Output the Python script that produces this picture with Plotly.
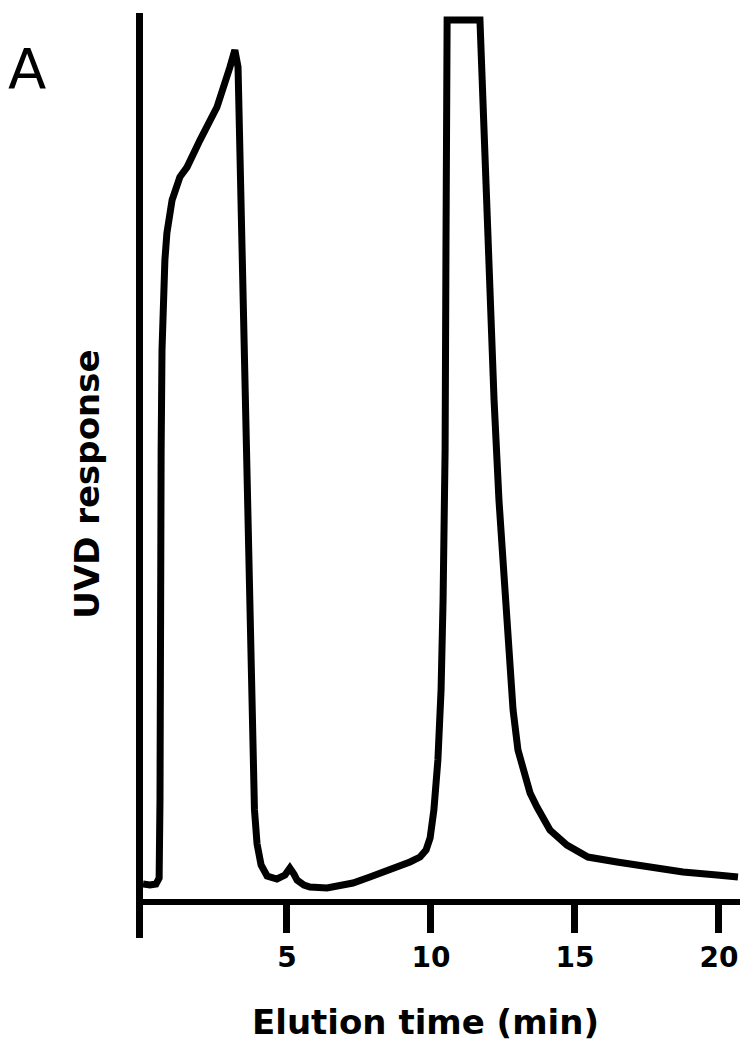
import plotly.graph_objects as go

# Chromatogram trace: elution time (min) and detector response (arbitrary units, off-scale = 100)
elution_time = [
    0.00, 0.24, 0.45, 0.56, 0.59, 0.59, 0.63, 0.66, 0.69, 0.76, 0.83, 1.01, 1.28, 1.53,
    1.98, 2.57, 3.02, 3.19, 3.30, 3.37, 3.47, 3.61, 3.70, 3.78, 3.87, 3.96, 4.10, 4.31,
    4.65, 4.93, 5.10, 5.24, 5.35, 5.59, 5.80, 6.39, 7.29, 7.88, 8.58, 9.27, 9.62, 9.83,
    9.97, 10.10, 10.24, 10.35, 10.42, 10.49, 10.52, 10.56, 11.70, 11.91, 12.05, 12.19,
    12.36, 12.57, 12.68, 12.85, 13.02, 13.23, 13.44, 13.68, 14.13, 14.72, 15.45, 16.46,
    17.60, 18.75, 19.93, 20.66,
]
uvd_response = [
    2.04, 1.93, 2.04, 2.72, 11.56, 34.24, 51.25, 62.59, 68.25, 72.79, 75.85, 79.59, 82.20, 83.33,
    86.39, 90.14, 94.67, 96.60, 94.67, 83.33, 68.25, 45.58, 30.00, 17.00, 10.50, 6.60, 4.20, 2.95,
    2.61, 3.06, 3.85, 3.17, 2.49, 1.93, 1.70, 1.59, 2.15, 2.83, 3.63, 4.54, 5.10, 5.90,
    7.26, 10.43, 16.10, 24.04, 34.24, 51.25, 73.92, 100.0, 100.0, 79.59, 68.25, 56.92,
    45.58, 34.24, 28.57, 21.77, 17.23, 14.40, 12.36, 10.77, 8.16, 6.46, 5.10, 4.54,
    3.97, 3.40, 3.06, 2.83,
]

x_ticks = [5, 10, 15, 20]
x_tick_labels = ["5", "10", "15", "20"]

FONT = "DejaVu Sans"
y_range = [-4.08, 100.8]
x_range = [0, 20.73]

fig = go.Figure()
fig.add_trace(go.Scatter(
    x=elution_time, y=uvd_response, mode="lines",
    line=dict(color="black", width=7),
    hoverinfo="skip", showlegend=False,
))

# x axis sits on the zero baseline, the y axis line runs the full plot height
x_axis_pos = (0 - y_range[0]) / (y_range[1] - y_range[0])

fig.update_layout(
    width=746, height=1042,
    margin=dict(l=143, r=6, t=13, b=104),
    paper_bgcolor="white", plot_bgcolor="white",
    font=dict(family=FONT, color="black"),
    xaxis=dict(
        range=x_range, anchor="free", position=x_axis_pos,
        showgrid=False, zeroline=False,
        showline=True, linecolor="black", linewidth=6,
        ticks="outside", ticklen=28, tickwidth=7, tickcolor="black",
        tickvals=x_ticks, ticktext=x_tick_labels,
        tickfont=dict(family=FONT, size=28, color="black", weight="bold"),
    ),
    yaxis=dict(
        range=y_range, showgrid=False, zeroline=False,
        showline=True, linecolor="black", linewidth=7,
        showticklabels=False, ticks="",
    ),
    annotations=[
        dict(text="A", xref="paper", yref="paper", x=-0.194, y=0.9405,
             xanchor="center", yanchor="middle", showarrow=False,
             font=dict(family=FONT, size=56, color="black")),
        dict(text="UVD response", xref="paper", yref="paper", x=-0.094, y=0.491,
             xanchor="center", yanchor="middle", textangle=-90, showarrow=False,
             font=dict(family=FONT, size=34, color="black", weight="bold")),
        dict(text="Elution time (min)", xref="paper", yref="paper", x=0.474, y=-0.0908,
             xanchor="center", yanchor="middle", showarrow=False,
             font=dict(family=FONT, size=34, color="black", weight="bold")),
    ],
)

fig.write_html("out.html")
